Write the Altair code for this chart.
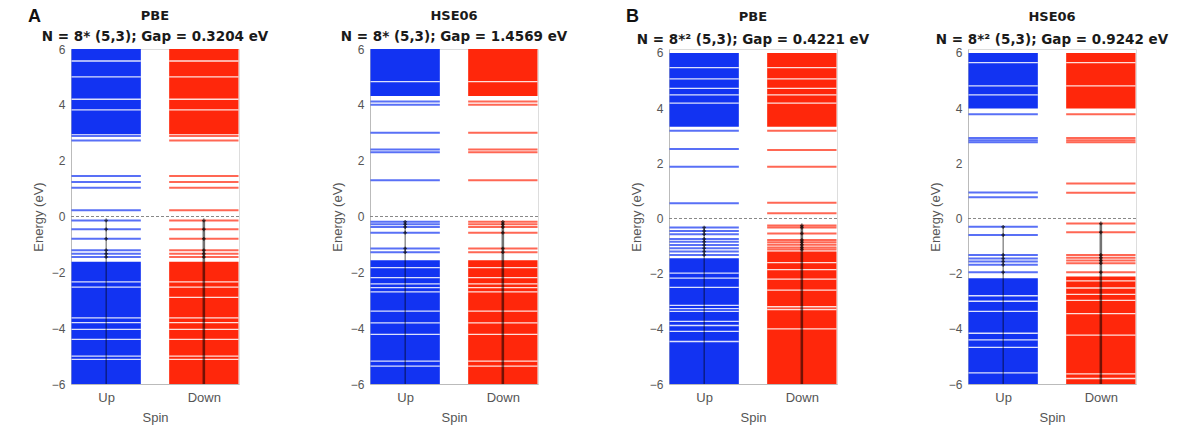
import altair as alt
import pandas as pd

# ---------------- data ----------------
titles = ["PBE", "HSE06", "PBE", "HSE06"]
subtitles = [
    "N = 8* (5,3); Gap = 0.3204 eV",
    "N = 8* (5,3); Gap = 1.4569 eV",
    "N = 8*\u00b2 (5,3); Gap = 0.4221 eV",
    "N = 8*\u00b2 (5,3); Gap = 0.9242 eV",
]
panel_labels = ["A", "", "B", ""]
spins = ["Up", "Down"]
spin_pos = [1, 2]
y_ticks = [-6, -4, -2, 0, 2, 4, 6]

# Panel A, PBE
a_pbe_up_levels = [2.88, 2.72, 1.45, 1.24, 1.03, 0.22, -0.14, -0.46, -0.80, -1.21, -1.33, -1.45]
a_pbe_up_bands = [[2.95, 6.0], [-6.0, -1.62]]
a_pbe_up_gaps = [5.57, 5.0, 4.2, 3.82, -2.34, -2.53, -3.63, -3.8, -4.04, -4.4, -5.0, -5.12]
a_pbe_dn_levels = [2.88, 2.72, 1.45, 1.24, 1.03, 0.22, -0.14, -0.46, -0.80, -1.21, -1.33, -1.45]
a_pbe_dn_bands = [[2.95, 6.0], [-6.0, -1.62]]
a_pbe_dn_gaps = [5.57, 5.0, 4.2, 3.82, -2.34, -2.53, -2.9, -3.63, -3.8, -4.04, -4.4, -5.0, -5.12]

# Panel A, HSE06
a_hse_up_levels = [4.12, 4.0, 3.0, 2.4, 2.3, 1.3, -0.19, -0.28, -0.38, -0.58, -1.15, -1.28]
a_hse_up_bands = [[4.32, 6.0], [-6.0, -1.57]]
a_hse_up_gaps = [4.83, -1.83, -2.19, -2.41, -2.55, -2.7, -3.39, -3.81, -4.22, -5.18, -5.36]
a_hse_dn_levels = [4.12, 4.0, 3.0, 2.4, 2.3, 1.3, -0.19, -0.28, -0.38, -0.58, -1.15, -1.28]
a_hse_dn_bands = [[4.32, 6.0], [-6.0, -1.57]]
a_hse_dn_gaps = [4.83, -1.83, -2.19, -2.41, -2.55, -2.7, -3.39, -3.81, -4.22, -5.18, -5.36]

# Panel B, PBE
b_pbe_up_levels = [3.18, 2.52, 1.88, 0.55, -0.33, -0.45, -0.57, -0.74, -0.84, -0.96, -1.08, -1.2, -1.32]
b_pbe_up_bands = [[3.33, 6.0], [-6.0, -1.44]]
b_pbe_up_gaps = [5.47, 5.06, 4.72, 4.48, 4.18, -1.98, -2.16, -2.5, -3.15, -3.27, -3.37, -3.73, -3.88, -4.09, -4.46]
b_pbe_dn_levels = [3.18, 2.48, 1.88, 0.57, 0.19, -0.25, -0.33, -0.54, -0.78, -0.86, -0.95, -1.05, -1.12]
b_pbe_dn_bands = [[3.33, 6.0], [-6.0, -1.2]]
b_pbe_dn_gaps = [5.47, 5.06, 4.72, 4.48, 4.18, -1.6, -1.85, -2.2, -2.6, -3.2, -3.3, -4.0]

# Panel B, HSE06
b_hse_up_levels = [3.78, 2.92, 2.84, 2.76, 0.94, 0.77, -0.3, -0.6, -1.32, -1.45, -1.56, -1.68, -1.95]
b_hse_up_bands = [[3.99, 6.0], [-6.0, -2.17]]
b_hse_up_gaps = [5.65, 4.81, 4.48, -2.8, -3.0, -3.37, -4.16, -4.4, -4.67, -5.6]
b_hse_dn_levels = [3.78, 2.92, 2.84, 2.76, 1.27, 0.93, -0.18, -0.5, -1.32, -1.42, -1.52, -1.62, -1.95]
b_hse_dn_bands = [[3.99, 6.0], [-6.0, -2.1]]
b_hse_dn_gaps = [5.65, 4.81, -2.26, -2.52, -2.75, -2.97, -3.45, -4.23, -5.63, -5.8]

panel_data = [
    [(a_pbe_up_levels, a_pbe_up_bands, a_pbe_up_gaps), (a_pbe_dn_levels, a_pbe_dn_bands, a_pbe_dn_gaps)],
    [(a_hse_up_levels, a_hse_up_bands, a_hse_up_gaps), (a_hse_dn_levels, a_hse_dn_bands, a_hse_dn_gaps)],
    [(b_pbe_up_levels, b_pbe_up_bands, b_pbe_up_gaps), (b_pbe_dn_levels, b_pbe_dn_bands, b_pbe_dn_gaps)],
    [(b_hse_up_levels, b_hse_up_bands, b_hse_up_gaps), (b_hse_dn_levels, b_hse_dn_bands, b_hse_dn_gaps)],
]

# ---------------- styling ----------------
BLUE = "#1233F2"
RED = "#FF270B"
FONT = "Liberation Sans"
TFONT = "DejaVu Sans"
HALF = 0.355
W, H = 168, 335
y_domains = [[-6, 6], [-6, 6], [-6, 6.145], [-6, 6.145]]
title_y = [-33, -33, -32, -32]
subtitle_y = [-12, -12, -9.5, -9.5]

color_scale = alt.Scale(domain=spins, range=[BLUE, RED])


def build_panel(i):
    lev_rows, band_rows, gap_rows, occ_rows, occ_line = [], [], [], [], []
    for s, pos, (levels, bands, gaps) in zip(spins, spin_pos, panel_data[i]):
        for e in levels:
            lev_rows.append({"spin": s, "x0": pos - HALF, "x1": pos + HALF, "E": e})
            if e < 0:
                occ_rows.append({"spin": s, "xc": pos, "E": e})
        for lo, hi in bands:
            band_rows.append({"spin": s, "x0": pos - HALF, "x1": pos + HALF, "lo": lo, "hi": hi})
        for g in gaps:
            gap_rows.append({"spin": s, "x0": pos - HALF, "x1": pos + HALF, "E": g})
        occ = [e for e in levels if e < 0]
        top = max(occ) if occ else 0
        occ_line.append({"spin": s, "xc": pos, "top": top, "bot": y_domains[i][0],
                         "w": 1.2 if s == "Up" else 2.6})

    xs = alt.Scale(domain=[1 - HALF - 0.005, 2 + HALF + 0.005], nice=False, zero=False)
    ys = alt.Scale(domain=y_domains[i], nice=False, zero=False)
    xaxis = alt.Axis(values=spin_pos, labelExpr="datum.value == 1 ? 'Up' : 'Down'",
                     title="Spin", grid=False, ticks=False, labelPadding=7,
                     labelFontSize=13, titleFontSize=13, labelColor="#555", titleColor="#555",
                     titleFontWeight="normal", labelFont=FONT, titleFont=FONT,
                     domainColor="#bbb", titlePadding=7)
    yaxis = alt.Axis(values=y_ticks, title="Energy (eV)", grid=False, ticks=False,
                     labelPadding=6, labelFontSize=12, titleFontSize=13, labelColor="#555",
                     titleColor="#555", titleFontWeight="normal", labelFont=FONT,
                     titleFont=FONT, domainColor="#bbb", titlePadding=6)

    bands_ch = alt.Chart(pd.DataFrame(band_rows)).mark_rect().encode(
        x=alt.X("x0:Q", scale=xs, axis=xaxis), x2="x1:Q",
        y=alt.Y("lo:Q", scale=ys, axis=yaxis), y2="hi:Q",
        color=alt.Color("spin:N", scale=color_scale, legend=None),
    )
    gaps_ch = alt.Chart(pd.DataFrame(gap_rows)).mark_rule(color="white", strokeWidth=1.3, opacity=0.85).encode(
        x=alt.X("x0:Q", scale=xs, axis=xaxis), x2="x1:Q",
        y=alt.Y("E:Q", scale=ys, axis=yaxis),
    )
    lev_ch = alt.Chart(pd.DataFrame(lev_rows)).mark_rule(strokeWidth=2.0, opacity=0.7).encode(
        x=alt.X("x0:Q", scale=xs, axis=xaxis), x2="x1:Q",
        y=alt.Y("E:Q", scale=ys, axis=yaxis),
        color=alt.Color("spin:N", scale=color_scale, legend=None),
    )
    zero_ch = alt.Chart(pd.DataFrame({"E": [0]})).mark_rule(
        color="#888", strokeDash=[3, 2], strokeWidth=1).encode(
        x=alt.value(0), x2=alt.value("width"),
        y=alt.Y("E:Q", scale=ys, axis=yaxis),
    )
    occ_line_ch = alt.Chart(pd.DataFrame(occ_line)).mark_rule(color="black", opacity=0.55).encode(
        x=alt.X("xc:Q", scale=xs, axis=xaxis),
        y=alt.Y("top:Q", scale=ys, axis=yaxis), y2="bot:Q",
        strokeWidth=alt.StrokeWidth("w:Q", scale=None, legend=None),
    )
    occ_pts = alt.Chart(pd.DataFrame(occ_rows)).mark_point(
        shape="cross", size=14, color="black", filled=True, opacity=0.6).encode(
        x=alt.X("xc:Q", scale=xs, axis=xaxis),
        y=alt.Y("E:Q", scale=ys, axis=yaxis),
    )
    head = alt.Chart(pd.DataFrame({"t": [titles[i]]})).mark_text(
        align="center", baseline="middle", fontSize=13, fontWeight="bold", font=TFONT, color="#1a1a1a"
    ).encode(x=alt.value(W / 2), y=alt.value(title_y[i]), text="t:N")
    sub = alt.Chart(pd.DataFrame({"t": [subtitles[i]]})).mark_text(
        align="center", baseline="middle", fontSize=13.5, fontWeight="bold", font=TFONT, color="#1a1a1a"
    ).encode(x=alt.value(W / 2), y=alt.value(subtitle_y[i]), text="t:N")
    layers = [bands_ch, gaps_ch, lev_ch, zero_ch, occ_line_ch, occ_pts, head, sub]
    if panel_labels[i]:
        lab = alt.Chart(pd.DataFrame({"t": [panel_labels[i]]})).mark_text(
            align="left", baseline="top", fontSize=18, fontWeight="bold", font=FONT, color="#111"
        ).encode(x=alt.value(-43), y=alt.value(-41), text="t:N")
        layers.append(lab)
    return alt.layer(*layers).properties(width=W, height=H)


chart = alt.hconcat(*[build_panel(i) for i in range(4)], spacing=131, bounds="flush").properties(
    padding={"left": 27, "top": 7, "right": 5, "bottom": 3}
).configure_view(stroke=None).configure(background="white")

chart.save("out.html", embed_options={"renderer": "svg", "actions": False})
